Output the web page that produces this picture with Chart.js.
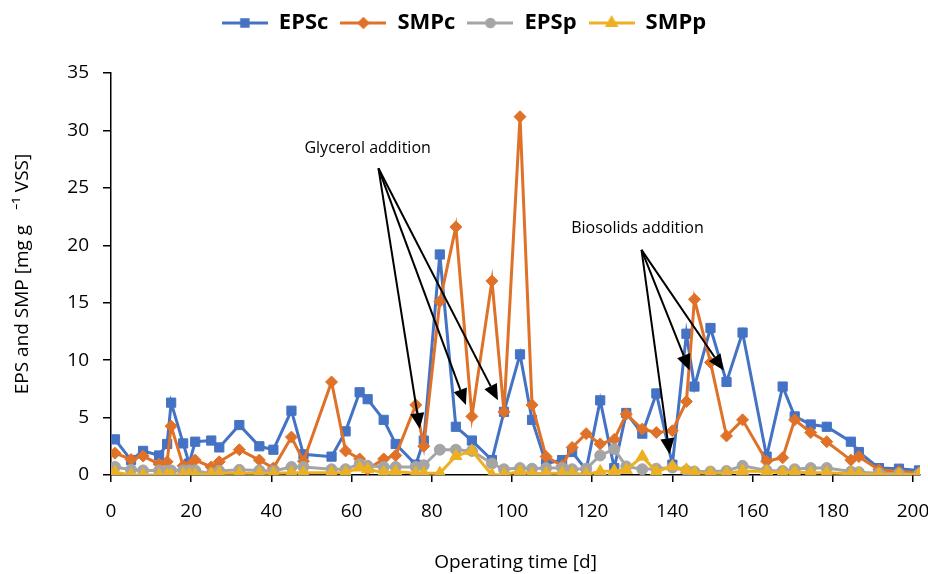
<!DOCTYPE html>
<html>
<head>
<meta charset="utf-8">
<script src="https://cdn.jsdelivr.net/npm/chart.js@4.4.0/dist/chart.umd.min.js"></script>
<style>
  html, body { margin: 0; padding: 0; background: #fff; }
  #wrap { width: 928px; height: 574px; }
</style>
</head>
<body>
<div id="wrap"><canvas id="chart" width="928" height="574"></canvas></div>
<script>
// Data (operating day, mg g-1 VSS)
const days = [1, 5, 8, 12, 14, 15, 18, 19.5, 21, 25, 27, 32, 37, 40.5, 45, 48, 55, 58.5, 62, 64,
  68, 71, 76, 78, 82, 86, 90, 95, 98, 102, 105, 108.5, 112.5, 115, 118.5, 122, 125.5, 128.5, 132.5, 136,
  140, 143.5, 145.5, 149.5, 153.5, 157.5, 163.5, 167.5, 170.5, 174.5, 178.5, 184.5, 186.5, 191.5, 196.5, 201.5];
const epsC = [3.1, 1.3, 2.1, 1.7, 2.7, 6.3, 2.75, 1.0, 2.9, 3.0, 2.4, 4.35, 2.5, 2.2, 5.6, 1.8, 1.6, 3.8, 7.2, 6.6,
  4.8, 2.7, 0.9, 3.0, 19.2, 4.2, 3.0, 1.3, 5.5, 10.5, 4.8, 1.0, 1.3, 2.0, 0.45, 6.5, 0.6, 5.4, 3.6, 7.1,
  0.9, 12.3, 7.7, 12.8, 8.1, 12.4, 1.6, 7.7, 5.1, 4.4, 4.2, 2.9, 2.0, 0.6, 0.55, 0.4];
const smpC = [1.9, 1.35, 1.65, 0.95, 1.15, 4.25, 0.8, 0.8, 1.3, 0.7, 1.15, 2.2, 1.3, 0.6, 3.3, 1.2, 8.1, 2.1, 1.4, 0.5,
  1.4, 1.7, 6.1, 2.5, 15.1, 21.6, 5.1, 16.9, 5.5, 31.2, 6.1, 1.6, 0.8, 2.4, 3.6, 2.7, 3.1, 5.3, 4.0, 3.7,
  3.85, 6.4, 15.3, 9.8, 3.4, 4.8, 1.2, 1.5, 4.8, 3.7, 2.9, 1.3, 1.6, 0.45, 0.3, 0.2];
const epsP = [0.7, 0.45, 0.4, 0.4, 0.35, 0.4, 0.4, 0.4, 0.4, 0.1, 0.35, 0.45, 0.4, 0.35, 0.7, 0.7, 0.5, 0.5, 0.95, 0.8,
  0.7, 0.7, 0.7, 0.85, 2.2, 2.2, 2.1, 1.0, 0.5, 0.6, 0.55, 0.6, 0.6, 0.5, 0.55, 1.7, 2.25, 0.75, 0.5, 0.55,
  0.65, 0.4, 0.3, 0.3, 0.35, 0.8, 0.4, 0.35, 0.5, 0.6, 0.6, 0.3, 0.25, 0.15, 0.1, 0.05];
const smpP = [0.25, 0, 0, 0, 0, 0, 0.05, 0.05, 0.05, 0.1, 0.15, 0.15, 0.15, 0.15, 0.2, 0.2, 0.2, 0.2, 0.65, 0.5,
  0.2, 0.3, 0.15, 0.15, 0.15, 1.65, 2.1, 0, 0.05, 0.3, 0.1, 0.15, 0.15, 0.15, 0.05, 0.3, 0.35, 0.45, 1.6, 0.3,
  0.75, 0.45, 0.2, 0.15, 0.15, 0.35, 0.3, 0.2, 0.25, 0.2, 0.2, 0.1, 0.1, 0.05, 0.05, 0.05];

const seriesNames = ['EPSc', 'SMPc', 'EPSp', 'SMPp'];
const xTicks = [0, 20, 40, 60, 80, 100, 120, 140, 160, 180, 200];

const colors = ['#4472C4', '#DF7228', '#A5A5A5', '#EDB021'];
const markers = ['rect', 'rectRot', 'circle', 'triangle'];
const markerSize = [6.5, 6, 5.5, 7];
const FONT = "'Open Sans', 'Noto Sans', sans-serif";

// legend sample: short line with the marker in the middle
function legendIcon(color, style, r) {
  const c = document.createElement('canvas');
  c.width = 46; c.height = 16;
  const g = c.getContext('2d');
  g.strokeStyle = color; g.lineWidth = 3;
  g.beginPath(); g.moveTo(0, 8); g.lineTo(46, 8); g.stroke();
  g.fillStyle = color;
  Chart.helpers.drawPoint(g, { pointStyle: style, radius: r * 0.7, borderWidth: 1 }, 23, 8);
  return c;
}

// arrows and their captions, in data units
const notes = [
  { text: 'Glycerol addition', at: [64, 28.4], from: [66.7, 26.7], tips: [[77, 4.0], [88.5, 6.1], [96.5, 6.5]] },
  { text: 'Biosolids addition', at: [131.3, 21.5], from: [132.3, 19.6], tips: [[139.3, 1.8], [144.3, 9.1], [152.8, 9.1]] }
];

const notesPlugin = {
  id: 'notes',
  afterDatasetsDraw(chart) {
    const { ctx, scales: { x, y } } = chart;
    ctx.save();
    ctx.fillStyle = '#000';
    ctx.strokeStyle = '#000';
    ctx.lineWidth = 2;
    ctx.font = '16px ' + FONT;
    ctx.textAlign = 'center';
    ctx.textBaseline = 'middle';
    notes.forEach(n => {
      ctx.fillText(n.text, x.getPixelForValue(n.at[0]), y.getPixelForValue(n.at[1]));
      const x0 = x.getPixelForValue(n.from[0]), y0 = y.getPixelForValue(n.from[1]);
      n.tips.forEach(t => {
        const x1 = x.getPixelForValue(t[0]), y1 = y.getPixelForValue(t[1]);
        const a = Math.atan2(y1 - y0, x1 - x0);
        const len = 16, half = 7;
        const bx = x1 - len * Math.cos(a), by = y1 - len * Math.sin(a);
        ctx.beginPath(); ctx.moveTo(x0, y0); ctx.lineTo(bx, by); ctx.stroke();
        ctx.beginPath();
        ctx.moveTo(x1, y1);
        ctx.lineTo(bx + half * Math.sin(a), by - half * Math.cos(a));
        ctx.lineTo(bx - half * Math.sin(a), by + half * Math.cos(a));
        ctx.closePath(); ctx.fill();
      });
    });
    ctx.restore();
  }
};

// more room under the legend
const legendGap = {
  id: 'legendGap',
  beforeInit(chart) {
    const fit = chart.legend.fit;
    chart.legend.fit = function () {
      fit.call(this);
      this.height += 29;
    };
  }
};

const lists = [epsC, smpC, epsP, smpP];
const datasets = seriesNames.map((name, i) => ({
  label: name,
  data: days.map((d, k) => ({ x: d, y: lists[i][k] })),
  borderColor: colors[i],
  backgroundColor: colors[i],
  borderWidth: 3,
  pointStyle: markers[i],
  pointRadius: markerSize[i],
  pointBorderWidth: 1,
  tension: 0,
  order: 4 - i
}));

new Chart(document.getElementById('chart'), {
  type: 'line',
  data: { datasets },
  plugins: [notesPlugin, legendGap],
  options: {
    responsive: false,
    animation: false,
    layout: { padding: { left: 0, right: 0, top: 0, bottom: 0 } },
    plugins: {
      tooltip: { enabled: false },
      legend: {
        position: 'top',
        labels: {
          usePointStyle: true,
          boxWidth: 46,
          boxHeight: 16,
          pointStyleWidth: 46,
          padding: 12,
          color: '#000',
          font: { family: FONT, size: 22, weight: 'bold' },
          generateLabels(chart) {
            return chart.data.datasets.map((ds, i) => ({
              text: ds.label,
              pointStyle: legendIcon(colors[i], markers[i], markerSize[i]),
              fillStyle: colors[i],
              strokeStyle: colors[i],
              lineWidth: 0,
              hidden: false,
              datasetIndex: i,
              fontColor: '#000'
            }));
          }
        }
      }
    },
    scales: {
      x: {
        type: 'linear',
        min: 0,
        max: 201.75,
        afterBuildTicks(s) { s.ticks = xTicks.map(v => ({ value: v })); },
        afterFit(s) { s.height = 99; s.paddingLeft = 0; s.paddingRight = 0; },
        grid: { display: true, drawOnChartArea: false, drawTicks: true, tickLength: 7, color: '#000', lineWidth: 1.5 },
        border: { display: true, color: '#000', width: 1.5 },
        ticks: { color: '#000', padding: 18, maxRotation: 0, font: { family: FONT, size: 19 } },
        title: { display: true, text: 'Operating time [d]', color: '#000', padding: { top: 12, bottom: 0 }, font: { family: FONT, size: 19 } }
      },
      y: {
        min: 0,
        max: 35,
        afterFit(s) { s.width = 111; s.paddingTop = 0; s.paddingBottom = 0; },
        grid: { display: true, drawOnChartArea: false, drawTicks: true, tickLength: 8, color: '#000', lineWidth: 1.5 },
        border: { display: true, color: '#000', width: 1.5 },
        ticks: { stepSize: 5, color: '#000', padding: 14, font: { family: FONT, size: 19 } },
        title: { display: true, text: 'EPS and SMP [mg g   \u207B\u00B9 VSS]', color: '#000', padding: { top: 11, bottom: 0 }, font: { family: FONT, size: 19 } }
      }
    }
  }
});
</script>
</body>
</html>
